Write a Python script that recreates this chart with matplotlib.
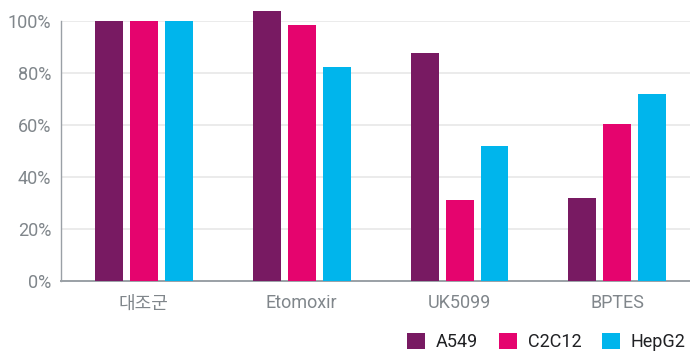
import numpy as np
import matplotlib
matplotlib.use("Agg")
import matplotlib.pyplot as plt
from matplotlib.ticker import PercentFormatter
from matplotlib.patches import Patch

plt.rcParams['font.family'] = ['Roboto', 'Noto Sans CJK KR', 'DejaVu Sans']

groups = ["대조군", "Etomoxir", "UK5099", "BPTES"]
series = ["A549", "C2C12", "HepG2"]
a549 = [100, 103.7, 87.6, 31.7]
c2c12 = [100, 98.5, 30.9, 60.2]
hepg2 = [100, 82.3, 51.7, 71.9]
colors = ["#781a62", "#e5046e", "#00b5ec"]

fig = plt.figure(figsize=(6.9, 3.56), dpi=100)
ax = fig.add_axes([61 / 690, 75.5 / 356, 1 - 61 / 690, 259.5 / 356])

x = np.arange(len(groups))
width = 0.177
step = 0.2215
for i, (vals, col) in enumerate(zip([a549, c2c12, hepg2], colors)):
    ax.bar(x + (i - 1) * step, vals, width, color=col, clip_on=False, zorder=3)

ax.set_ylim(0, 100)
ax.set_xlim(-0.525, 3.46)
ax.set_yticks([0, 20, 40, 60, 80, 100])
ax.yaxis.set_major_formatter(PercentFormatter(decimals=0))
ax.set_xticks(x)
ax.set_xticklabels(groups)
ax.tick_params(axis='both', length=0, labelsize=13, labelcolor="#80868b")
ax.tick_params(axis='x', pad=10)
ax.tick_params(axis='y', pad=7)

ax.grid(axis='y', color="#e8e8e8", linewidth=1.2, zorder=0)
for s in ['top', 'right']:
    ax.spines[s].set_visible(False)
ax.spines['left'].set_color("#9aa0a6")
ax.spines['bottom'].set_color("#9aa0a6")
ax.spines['bottom'].set_linewidth(1.4)
ax.spines['left'].set_linewidth(1.0)

handles = [Patch(facecolor=c, edgecolor='none') for c in colors]
fig.legend(handles, series, loc='center right', bbox_to_anchor=(0.994, 0.039),
           ncol=3, frameon=False, fontsize=13, handlelength=1.0, handleheight=1.0,
           handletextpad=0.6, columnspacing=1.15, borderpad=0, borderaxespad=0,
           labelcolor="#202124")

fig.savefig("out.png", dpi=100)
